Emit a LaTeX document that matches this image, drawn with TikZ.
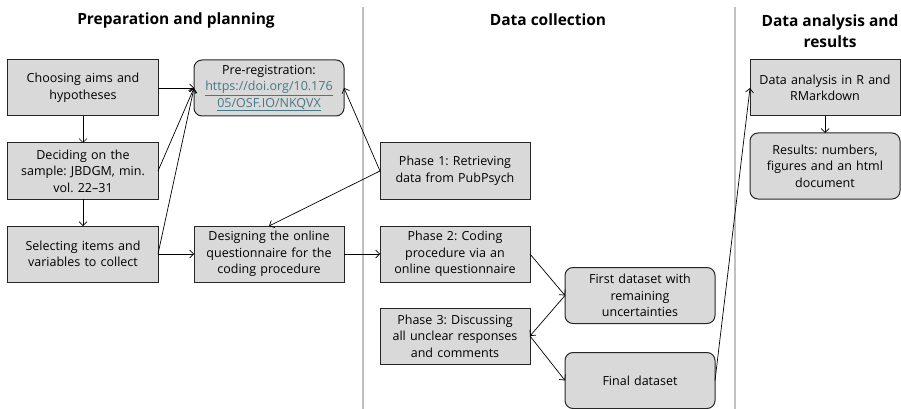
\documentclass[tikz,border=0pt]{standalone}
\usepackage{fontspec}
\setmainfont{Open Sans}
\frenchspacing
\usetikzlibrary{positioning,arrows.meta}
\definecolor{boxgray}{HTML}{D9D9D9}
\definecolor{linkteal}{HTML}{467886}
\definecolor{rulegray}{HTML}{C0C0C0}

\begin{document}
\begin{tikzpicture}[x=1pt,y=1pt]
	\tikzstyle{box}=[rectangle, draw=black!85, fill=boxgray, line width=1pt, minimum width=150pt, minimum height=56pt, text width=148pt, align=center, inner sep=1pt, outer sep=0pt, font=\fontsize{12.5}{16.5}\selectfont, node distance=27pt and 36pt]
	\tikzstyle{rbox}=[box, rounded corners=8pt]
	\tikzstyle{connect}=[line width=0.7pt, -{Straight Barb[length=4pt,width=8pt]}]
	\tikzstyle{title}=[font=\fontsize{15.5}{21}\selectfont\bfseries, align=center]
	\tikzstyle{rule}=[draw=rulegray, line width=1.5pt]
	\useasboundingbox (-83,88) rectangle (818,-321);

	% column separators and headings
	\draw[rule] (280,81) -- (280,-321);
	\draw[rule] (652,81) -- (652,-321);
	\node[title] (prep) at (93,68) {Preparation and planning};
	\node[title] (coll) at (465,68) {Data collection};
	\node[title] (anal) at (747,57) {Data analysis and\\results};

	% preparation and planning
	\node[box]  (aims)   {Choosing aims and\\hypotheses};
	\node[box]  (sample) [below=of aims] {Deciding on the\\sample: JBDGM, min.\\vol. 22--31};
	\node[box]  (items)  [below=of sample] {Selecting items and\\variables to collect};
	\node[rbox] (prereg) [right=of aims] {Pre-registration:\\\textcolor{linkteal}{\underline{https://doi.org/10.176}}\\\textcolor{linkteal}{\underline{05/OSF.IO/NKQVX}}};
	\node[box]  (design) [right=of items] {Designing the online\\questionnaire for the\\coding procedure};

	% data collection
	\node[box]  (phase2) [right=of design] {Phase 2: Coding\\procedure via an\\online questionnaire};
	\node[box]  (phase1) [above=of phase2] {Phase 1: Retrieving\\data from PubPsych};
	\node[box]  (phase3) [below=26pt of phase2] {Phase 3: Discussing\\all unclear responses\\and comments};
	\node[rbox] (first)  [right=35pt of phase2, yshift=-41.5pt] {First dataset with\\remaining\\uncertainties};
	\node[rbox] (final)  [below=29pt of first] {Final dataset};

	% data analysis and results
	\coordinate (top3) at (final.east |- aims);
	\node[box, minimum width=147pt]  (analysis) [right=35pt of top3] {Data analysis in R and\\RMarkdown};
	\node[rbox, minimum width=147pt, minimum height=66pt] (results) [below=17pt of analysis] {Results: numbers,\\figures and an html\\document};

	\path
	(aims) edge [connect] (prereg)
	(aims) edge [connect] (sample)
	(sample) edge [connect] (items)
	(sample.east) edge [connect] (prereg.west)
	(items.east) edge [connect] (prereg.west)
	(items) edge [connect] (design)

	(phase1.west) edge [connect] (prereg.east)
	(phase1.west) edge [connect] (design.north)
	(design) edge [connect] (phase2)
	(phase2.east) edge [connect] (first.west)
	(first.west) edge [connect] (phase3.east)
	(phase3.east) edge [connect] (final.west)

	(final.east) edge [connect] (analysis.west)
	(analysis) edge [connect] (results)
	;
\end{tikzpicture}
\end{document}
